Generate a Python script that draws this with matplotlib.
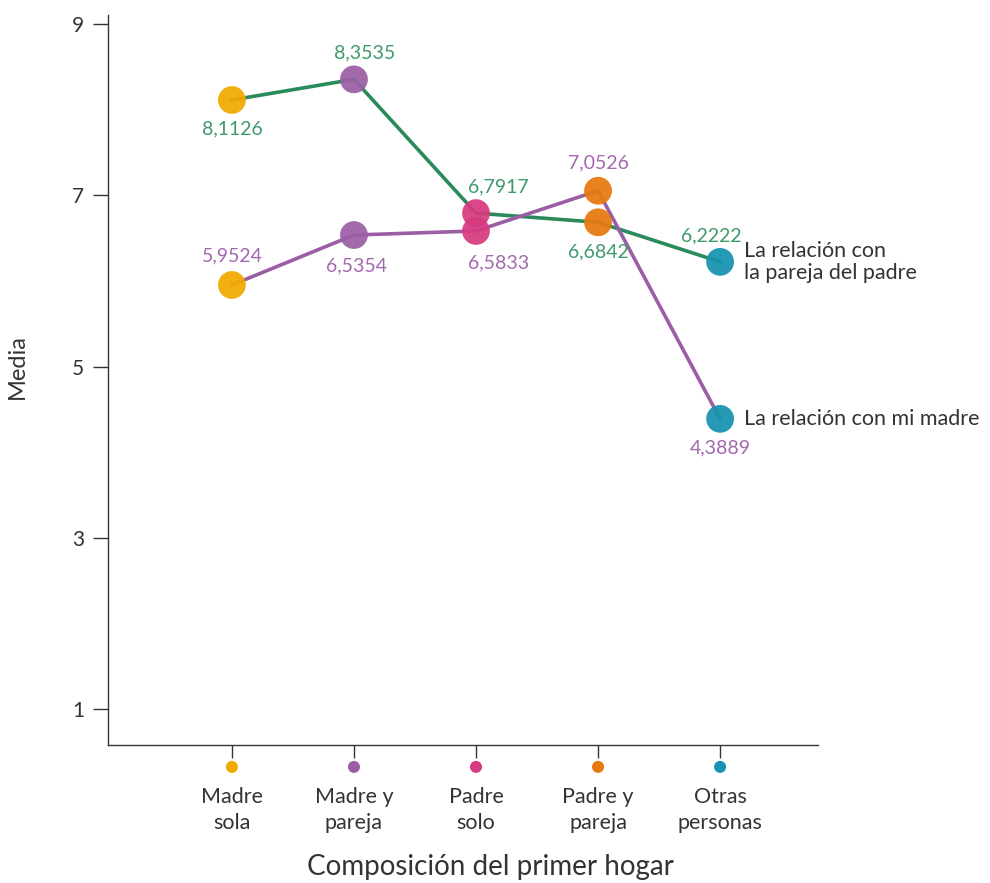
import matplotlib.pyplot as plt
from matplotlib.transforms import blended_transform_factory

plt.rcParams['font.family'] = ['Lato', 'DejaVu Sans']

categorias = ['Madre\nsola', 'Madre y\npareja', 'Padre\nsolo', 'Padre y\npareja', 'Otras\npersonas']
colores_cat = ['#F2A900', '#9B5EA5', '#D63A80', '#E8790D', '#1593B0']

pareja_padre = [8.1126, 8.3535, 6.7917, 6.6842, 6.2222]
madre = [5.9524, 6.5354, 6.5833, 7.0526, 4.3889]

# etiquetas: desplazamiento (x, y) en puntos
off_pareja = [(0, -21), (8, 19), (16, 19), (0, -21), (-6, 19)]
off_madre = [(0, 21), (2, -22), (16, -23), (0, 20), (0, -21)]

verde = '#2A8A5A'
morado = '#9B5EA5'
verde_txt = '#3E9A6C'
morado_txt = '#A468AE'
gris = '#333333'

fig = plt.figure(figsize=(9.9, 8.83), dpi=100)
ax = fig.add_axes([0.109, 0.1563, 0.717, 0.8267])

x = list(range(len(categorias)))
ax.plot(x, pareja_padre, color=verde, lw=2.6, zorder=2)
ax.plot(x, madre, color=morado, lw=2.6, zorder=3)
for serie in (pareja_padre, madre):
    ax.scatter(x, serie, s=400, c=colores_cat, alpha=0.93, zorder=4, linewidths=0)

def fmt(v):
    return f'{v:.4f}'.replace('.', ',')

for xi, v, o in zip(x, pareja_padre, off_pareja):
    ax.annotate(fmt(v), (xi, v), xytext=o, textcoords='offset points',
                ha='center', va='center', color=verde_txt, fontsize=14)
for xi, v, o in zip(x, madre, off_madre):
    ax.annotate(fmt(v), (xi, v), xytext=o, textcoords='offset points',
                ha='center', va='center', color=morado_txt, fontsize=14)

ax.annotate('La relación con\nla pareja del padre', (4, pareja_padre[4]), xytext=(17, 0),
            textcoords='offset points', ha='left', va='center', color=gris,
            fontsize=15.5, linespacing=1.15)
ax.annotate('La relación con mi madre', (4, madre[4]), xytext=(17, 0),
            textcoords='offset points', ha='left', va='center', color=gris,
            fontsize=15.5)

ax.set_xlim(-1.016, 4.8)
ax.set_ylim(0.58, 9.105)
ax.set_yticks([1, 3, 5, 7, 9])
ax.set_xticks(x)
ax.set_xticklabels(categorias)
for t in ax.get_xticklabels():
    t.set_linespacing(1.4)
ax.tick_params(axis='y', length=11, width=1, color=gris, labelcolor=gris, labelsize=15, pad=6)
ax.tick_params(axis='x', length=9, width=1, color=gris, labelcolor=gris, labelsize=15.5, pad=21)

for s in ['top', 'right']:
    ax.spines[s].set_visible(False)
for s in ['left', 'bottom']:
    ax.spines[s].set_color(gris)
    ax.spines[s].set_linewidth(1)

trans = blended_transform_factory(ax.transData, ax.transAxes)
ax.scatter(x, [-0.030] * len(x), s=75, c=colores_cat, transform=trans, clip_on=False,
           linewidths=0, zorder=5)

fig.text(0.495, 0.003, 'Composición del primer hogar', ha='center', va='bottom',
         fontsize=20, color=gris)
fig.text(0.018, 0.585, 'Media', rotation=90, ha='center', va='center', fontsize=17, color=gris)

fig.savefig('out.png', dpi=100)
